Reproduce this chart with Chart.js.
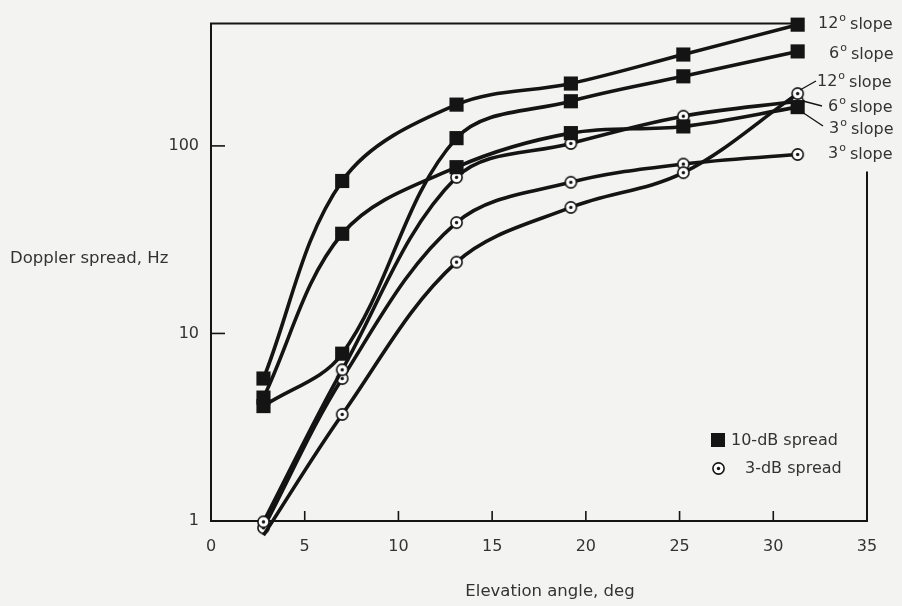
<!DOCTYPE html>
<html>
<head>
<meta charset="utf-8">
<script src="https://cdn.jsdelivr.net/npm/chart.js@4.4.0/dist/chart.umd.min.js"></script>
<style>
  html, body { margin: 0; padding: 0; background: #f3f3f1; }
  #wrap { width: 902px; height: 606px; }
</style>
</head>
<body>
<div id="wrap"><canvas id="chart" width="902" height="606"></canvas></div>
<script>
// elevation angles of the measured points (deg)
const angles = [2.8, 7, 13.1, 19.2, 25.2, 31.3];

// 10-dB spread (Hz)
const tenDb12 = [5.75, 65, 166, 215, 307, 443];
const tenDb6 = [4.1, 7.8, 110, 173, 235, 319];
const tenDb3 = [4.55, 34, 77, 117, 127, 161];

// 3-dB spread (Hz)
const threeDb12 = [0.84, 3.7, 24, 47, 72, 190];
const threeDb6 = [0.99, 6.4, 68, 103, 144, 173];
const threeDb3 = [0.92, 5.75, 39, 64, 80, 90];

const xTicks = [0, 5, 10, 15, 20, 25, 30, 35];
const yTicks = [1, 10, 100];

const ink = '#141414';
const textInk = '#333';
const fontFam = '"DejaVu Sans", sans-serif';

function toPoints(ys) {
    return angles.map((a, i) => ({ x: a, y: ys[i] }));
}

// small circle with a dot in the middle, as in the 3-dB markers
function ringDot() {
    const c = document.createElement('canvas');
    c.width = 15; c.height = 15;
    const g = c.getContext('2d');
    g.beginPath();
    g.arc(7.5, 7.5, 5.6, 0, 2 * Math.PI);
    g.fillStyle = '#fff';
    g.fill();
    g.lineWidth = 1.6;
    g.strokeStyle = ink;
    g.stroke();
    g.beginPath();
    g.arc(7.5, 7.5, 1.7, 0, 2 * Math.PI);
    g.fillStyle = ink;
    g.fill();
    return c;
}
const ring = ringDot();

function series(ys, marker) {
    return {
        data: toPoints(ys),
        borderColor: ink,
        borderWidth: 3.6,
        tension: 0.35,
        pointStyle: marker === 'sq' ? 'rect' : ring,
        pointRadius: marker === 'sq' ? 10 : 7,
        pointBackgroundColor: ink,
        pointBorderWidth: 0,
        clip: false,
        fill: false,
    };
}

// slope labels next to the curve ends
const slopeLabels = [
    { deg: '12', y: 24, x: 818, lead: null },
    { deg: '6', y: 54, x: 829, lead: null },
    { deg: '12', y: 82, x: 817, lead: [800, 90, 816, 81] },
    { deg: '6', y: 107, x: 828, lead: [803, 101, 822, 106] },
    { deg: '3', y: 129, x: 829, lead: [802, 112, 823, 126] },
    { deg: '3', y: 154, x: 828, lead: null },
];

function slopeText(ctx, lab) {
    ctx.font = '16px ' + fontFam;
    ctx.textBaseline = 'middle';
    ctx.textAlign = 'left';
    ctx.fillText(lab.deg, lab.x, lab.y);
    let x = lab.x + ctx.measureText(lab.deg).width + 1;
    ctx.font = '11px ' + fontFam;
    ctx.fillText('o', x, lab.y - 6);
    x += ctx.measureText('o').width + 4;
    ctx.font = '16px ' + fontFam;
    ctx.fillText('slope', x, lab.y + 1);
}

const paper = {
    id: 'paper',
    beforeDraw(chart) {
        const ctx = chart.ctx;
        ctx.save();
        ctx.fillStyle = '#f3f3f1';
        ctx.fillRect(0, 0, chart.width, chart.height);
        ctx.restore();
    },
    beforeDatasetsDraw(chart) {
        const ctx = chart.ctx;
        const a = chart.chartArea;
        const xs = chart.scales.x, ys = chart.scales.y;
        ctx.save();
        ctx.strokeStyle = ink;
        ctx.lineWidth = 2;
        ctx.beginPath();
        // open-ended frame: top stops near the last point, right starts lower
        ctx.moveTo(a.right - 68, a.top + 2);
        ctx.lineTo(a.left, a.top + 2);
        ctx.lineTo(a.left, a.bottom);
        ctx.lineTo(a.right, a.bottom);
        ctx.lineTo(a.right, a.top + 150);
        ctx.stroke();
        // inward ticks
        ctx.lineWidth = 1.6;
        xTicks.slice(1, -1).forEach(v => {
            const px = xs.getPixelForValue(v);
            ctx.beginPath();
            ctx.moveTo(px, a.bottom);
            ctx.lineTo(px, a.bottom - 10);
            ctx.stroke();
        });
        yTicks.slice(1).forEach(v => {
            const py = ys.getPixelForValue(v);
            ctx.beginPath();
            ctx.moveTo(a.left, py);
            ctx.lineTo(a.left + 14, py);
            ctx.stroke();
        });
        ctx.restore();
    },
    afterDatasetsDraw(chart) {
        const ctx = chart.ctx;
        ctx.save();
        ctx.fillStyle = textInk;
        ctx.strokeStyle = ink;
        ctx.lineWidth = 1.4;

        // axis titles
        ctx.font = '16.5px ' + fontFam;
        ctx.textBaseline = 'middle';
        ctx.textAlign = 'left';
        ctx.fillText('Doppler spread, Hz', 10, 259);
        ctx.textAlign = 'center';
        ctx.fillText('Elevation angle, deg', 550, 592);

        // slope labels
        slopeLabels.forEach(lab => {
            if (lab.lead) {
                ctx.beginPath();
                ctx.moveTo(lab.lead[0], lab.lead[1]);
                ctx.lineTo(lab.lead[2], lab.lead[3]);
                ctx.stroke();
            }
            slopeText(ctx, lab);
        });

        // legend
        ctx.fillStyle = ink;
        ctx.fillRect(711, 433, 14, 14);
        ctx.drawImage(ring, 711, 461);
        ctx.fillStyle = textInk;
        ctx.font = '16px ' + fontFam;
        ctx.textAlign = 'left';
        ctx.fillText('10-dB spread', 731, 441);
        ctx.fillText('3-dB spread', 745, 469);
        ctx.restore();
    }
};

new Chart(document.getElementById('chart'), {
    type: 'line',
    data: {
        datasets: [
            series(tenDb12, 'sq'),
            series(tenDb6, 'sq'),
            series(tenDb3, 'sq'),
            series(threeDb12, 'ci'),
            series(threeDb6, 'ci'),
            series(threeDb3, 'ci'),
        ],
    },
    options: {
        responsive: false,
        animation: false,
        layout: { padding: { left: 0, right: 35, top: 20, bottom: 0 } },
        plugins: {
            legend: { display: false },
            tooltip: { enabled: false },
        },
        scales: {
            x: {
                type: 'linear',
                min: 0,
                max: 35,
                grid: { display: false, drawTicks: false },
                border: { display: false },
                afterBuildTicks: scale => { scale.ticks = xTicks.map(v => ({ value: v })); },
                afterFit: scale => { scale.height = 85; },
                ticks: {
                    padding: 16,
                    color: textInk,
                    font: { family: fontFam, size: 16 },
                },
            },
            y: {
                type: 'logarithmic',
                min: 1,
                max: 460,
                grid: { display: false, drawTicks: false },
                border: { display: false },
                afterBuildTicks: scale => { scale.ticks = yTicks.map(v => ({ value: v })); },
                afterFit: scale => { scale.width = 211; },
                ticks: {
                    padding: 12,
                    color: textInk,
                    font: { family: fontFam, size: 16 },
                    callback: v => String(v),
                },
            },
        },
    },
    plugins: [paper],
});
</script>
</body>
</html>
